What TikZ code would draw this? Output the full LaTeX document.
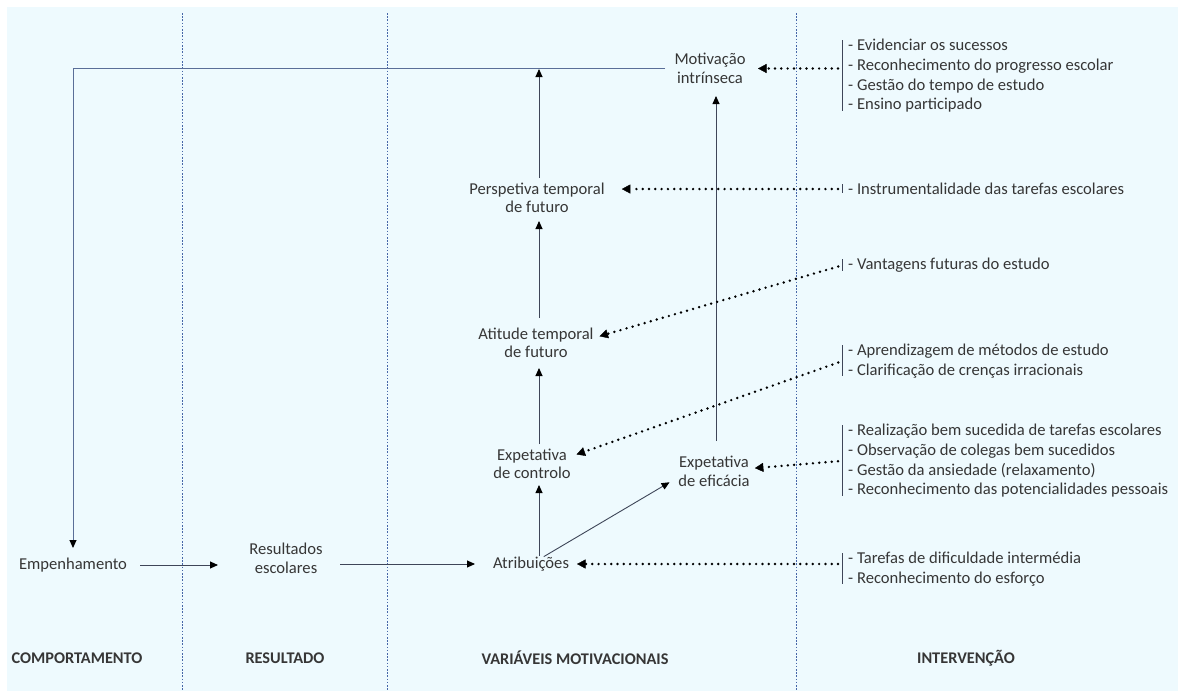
\documentclass[tikz,border=0pt]{standalone}
\usepackage{fontspec}
\setmainfont{Carlito}
\usetikzlibrary{arrows.meta,calc}
\definecolor{bgc}{HTML}{EEFAFE}
\definecolor{txtc}{HTML}{363636}
\definecolor{lnc}{HTML}{3E4558}
\definecolor{loopc}{HTML}{5A6E98}
\definecolor{divc}{HTML}{4666A8}
\begin{document}
\begin{tikzpicture}[x=1pt,y=-1pt,
  every node/.style={text=txtc, inner sep=0pt},
  lbl/.style={font=\fontsize{16.6}{18.5}\selectfont, align=center},
  lst/.style={font=\fontsize{16.6}{19.7}\selectfont, align=left, anchor=north west, inner xsep=6pt, inner ysep=0pt},
  hdr/.style={font=\fontsize{16.3}{19}\selectfont\bfseries},
  arr/.style={draw=lnc, line width=0.9pt, -{Triangle[length=8pt,width=7pt,color=black]}},
  looparr/.style={draw=loopc, line width=1pt, -{Triangle[length=8pt,width=7pt,color=black]}},
  dotarr/.style={draw=black, line width=2.7pt, line cap=round, dash pattern=on 0pt off 6.3pt, -{Triangle[length=8.5pt,width=9pt,line width=0.4pt]}},
  divider/.style={draw=divc, line width=0.8pt, dash pattern=on 1.6pt off 1.6pt},
  bar/.style={draw=lnc, line width=1pt},
]
\useasboundingbox (0,0) rectangle (1178,691);
\fill[bgc] (7,7) rectangle (1178,691);
% column dividers
\draw[divider] (182,13) -- (182,691);
\draw[divider] (387,13) -- (387,691);
\draw[divider] (796,13) -- (796,691);

% nodes
\node[lbl] (mot) at (710,68.5) {Motivação\\intrínseca};
\node[lbl] (per) at (537,198) {Perspetiva temporal\\de futuro};
\node[lbl] (ati) at (536,343) {Atitude temporal\\de futuro};
\node[lbl] (ctrl) at (532,464) {Expetativa\\de controlo};
\node[lbl] (efi) at (714,471.5) {Expetativa\\de eficácia};
\node[lbl] (atr) at (531,564) {Atribuições};
\node[lbl] (res) at (286,558.5) {Resultados\\escolares};
\node[lbl] (emp) at (73,565) {Empenhamento};
\coordinate (ax) at (539,0);
\coordinate (ex) at (716,0);

% intervention lists
\node[lst] (l1) at (842,39) {- Evidenciar os sucessos\\- Reconhecimento do progresso escolar\\- Gestão do tempo de estudo\\- Ensino participado};
\node[lst] (l2) at (842,183) {- Instrumentalidade das tarefas escolares};
\node[lst] (l3) at (842,258) {- Vantagens futuras do estudo};
\node[lst] (l4) at (842,344) {- Aprendizagem de métodos de estudo\\- Clarificação de crenças irracionais};
\node[lst] (l5) at (842,424) {- Realização bem sucedida de tarefas escolares\\- Observação de colegas bem sucedidos\\- Gestão da ansiedade (relaxamento)\\- Reconhecimento das potencialidades pessoais};
\node[lst] (l6) at (842,552) {- Tarefas de dificuldade intermédia\\- Reconhecimento do esforço};
\foreach \l in {l1,l2,l3,l4,l5,l6}{\draw[bar, shorten <=1pt, shorten >=2pt] (\l.north west) -- (\l.south west);}

% headers
\node[hdr] (h1) at (77,658) {COMPORTAMENTO};
\node[hdr] (h2) at (285,658) {RESULTADO};
\node[hdr] (h3) at (575,658) {VARIÁVEIS MOTIVACIONAIS};
\node[hdr] (h4) at (966,658) {INTERVENÇÃO};

% solid connectors
\draw[looparr, shorten <=45pt, shorten >=17pt] (mot.center) -- (mot.center -| emp.center) -- (emp.center);
\draw[arr, shorten <=67pt, shorten >=68pt] (emp.center) -- (emp.center -| res.center);
\draw[arr, shorten <=54pt, shorten >=56pt] (atr.center -| res.center) -- (atr.center);
\draw[arr, shorten <=8pt, shorten >=21pt] (atr -| ax) -- (ctrl -| ax);
\draw[arr, shorten <=20pt, shorten >=25pt] (ctrl -| ax) -- (ati -| ax);
\draw[arr, shorten <=25pt, shorten >=23pt] (ati -| ax) -- (per -| ax);
\draw[arr, shorten <=20pt, shorten >=0.5pt] (per -| ax) -- (mot -| ax);
\draw[arr, shorten <=30.5pt, shorten >=27.5pt] (efi -| ex) -- (mot -| ex);
\draw[arr, shorten >=10pt] (atr.30) -- (efi.189);

% dotted connectors
\draw[dotarr, shorten <=4pt, shorten >=48pt] (l1.west |- mot.center) -- (mot.center);
\draw[dotarr, shorten <=4pt, shorten >=17pt] (l2.west) -- (l2.west -| per.east);
\draw[dotarr, shorten <=4pt, shorten >=6pt] (l3.west) -- (ati.5);
\draw[dotarr, shorten <=4pt, shorten >=6pt] (l4.west) -- (ctrl.11);
\draw[dotarr, shorten <=4pt, shorten >=41pt] (l5.west) -- (efi.center);
\draw[dotarr, shorten <=4pt, shorten >=46pt] (l6.west |- atr.center) -- (atr.center);
\end{tikzpicture}
\end{document}
